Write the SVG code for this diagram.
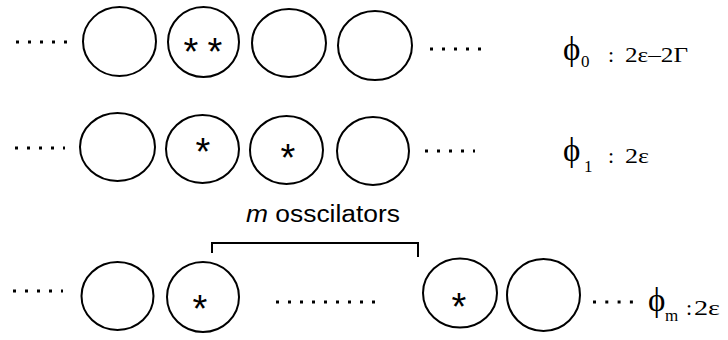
<svg xmlns="http://www.w3.org/2000/svg" width="728" height="340" viewBox="0 0 728 340">
<style>
.osc{fill:none;stroke:#000;stroke-width:2}
.star{font-family:"Liberation Sans",Arial,sans-serif;font-size:38px;text-anchor:middle;fill:#000}
.dots{stroke:#000;stroke-width:3;fill:none}
.lbl{font-family:"Liberation Serif","Times New Roman",serif;font-size:22px;fill:#000}
.phi{font-family:"Liberation Serif","Times New Roman",serif;font-size:33px;fill:#000}
.sub{font-family:"Liberation Serif","Times New Roman",serif;font-size:17px;fill:#000}
.cap{font-family:"Liberation Sans",Arial,sans-serif;font-size:23px;fill:#000}
</style>
<rect width="728" height="340" fill="#fff"/>
<g id="row0">
  <g id="r0c1"><ellipse class="osc" cx="119.5" cy="41.5" rx="36.5" ry="34.5"/></g>
  <g id="r0c2"><ellipse class="osc" cx="203.5" cy="42" rx="35.5" ry="35"/><text class="star" x="191" y="65">*</text><text class="star" x="215" y="65">*</text></g>
  <g id="r0c3"><ellipse class="osc" cx="289" cy="43" rx="37" ry="34"/></g>
  <g id="r0c4"><ellipse class="osc" cx="375" cy="45.5" rx="37" ry="34.5"/></g>
  <line class="dots" x1="16" y1="42" x2="67" y2="42" stroke-dasharray="3 9"/>
  <line class="dots" x1="430" y1="49" x2="482" y2="49" stroke-dasharray="3 9"/>
  <g id="lbl0">
    <text class="phi" x="563" y="60">ϕ</text>
    <text class="sub" x="581" y="67">0</text>
    <text class="lbl" x="608" y="62">:</text>
    <text class="lbl" x="625" y="62" textLength="63" lengthAdjust="spacingAndGlyphs">2ε–2Γ</text>
  </g>
</g>
<g id="row1">
  <g id="r1c1"><ellipse class="osc" cx="117.5" cy="147" rx="37.5" ry="34"/></g>
  <g id="r1c2"><ellipse class="osc" cx="202.5" cy="149" rx="36.5" ry="34"/><text class="star" x="203" y="165">*</text></g>
  <g id="r1c3"><ellipse class="osc" cx="286.5" cy="150" rx="36.5" ry="34"/><text class="star" x="288" y="171">*</text></g>
  <g id="r1c4"><ellipse class="osc" cx="373" cy="151" rx="36" ry="34"/></g>
  <line class="dots" x1="15" y1="148" x2="65" y2="148" stroke-dasharray="3 9"/>
  <line class="dots" x1="425" y1="151" x2="475" y2="151" stroke-dasharray="3 9"/>
  <g id="lbl1">
    <text class="phi" x="563" y="161">ϕ</text>
    <text class="sub" x="584" y="172">1</text>
    <text class="lbl" x="608" y="163">:</text>
    <text class="lbl" x="625" y="163" textLength="24" lengthAdjust="spacingAndGlyphs">2ε</text>
  </g>
</g>
<g id="rowm">
  <g id="r2c1"><ellipse class="osc" cx="117.5" cy="296" rx="36" ry="34"/></g>
  <g id="r2c2"><ellipse class="osc" cx="203" cy="297" rx="36" ry="35"/><text class="star" x="200" y="322">*</text></g>
  <g id="r2c3"><ellipse class="osc" cx="460" cy="293" rx="37" ry="34.5"/><text class="star" x="459" y="320">*</text></g>
  <g id="r2c4"><ellipse class="osc" cx="543.5" cy="295" rx="36.5" ry="36"/></g>
  <line class="dots" x1="13" y1="291" x2="63" y2="291" stroke-dasharray="3 9"/>
  <line class="dots" x1="276" y1="302" x2="375" y2="302" stroke-dasharray="3 9"/>
  <line class="dots" x1="593" y1="302" x2="633" y2="302" stroke-dasharray="3 9.3"/>
  <g id="lblm">
    <text class="phi" x="648" y="311">ϕ</text>
    <text class="sub" x="665" y="321">m</text>
    <text class="lbl" x="686" y="315">:</text>
    <text class="lbl" x="694" y="315" textLength="26" lengthAdjust="spacingAndGlyphs">2ε</text>
  </g>
</g>
<g id="bracket">
  <path d="M212,253 V243 H418 V257" fill="none" stroke="#000" stroke-width="2"/>
  <text class="cap" x="246" y="222" textLength="154" lengthAdjust="spacingAndGlyphs"><tspan font-style="italic">m</tspan> osscilators</text>
</g>
</svg>
